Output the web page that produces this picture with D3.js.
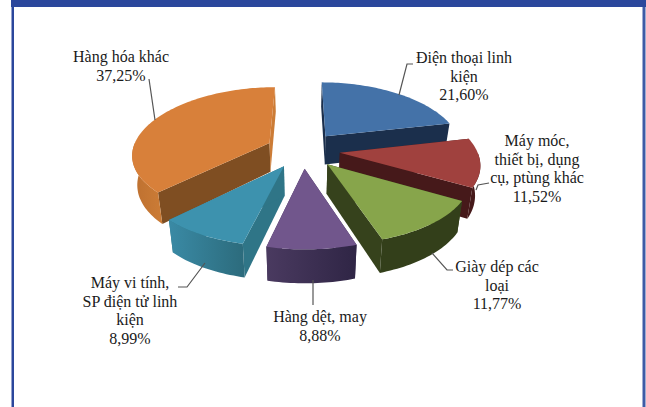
<!DOCTYPE html>
<html>
<head>
<meta charset="utf-8">
<script src="https://cdn.jsdelivr.net/npm/d3@7"></script>
<style>
  html, body { margin: 0; padding: 0; background: #fff; }
  text { font-family: "Liberation Serif", serif; font-size: 16px; fill: #1a1a1a; }
</style>
</head>
<body>
<div id="chart"></div>
<script>
const categories = ["Điện thoại linh kiện", "Máy móc, thiết bị, dụng cụ, ptùng khác", "Giày dép các loại", "Hàng dệt, may", "Máy vi tính, SP điện tử linh kiện", "Hàng hóa khác"];
const values = [21.60, 11.52, 11.77, 8.88, 8.99, 37.25];
const valueLabels = ["21,60%", "11,52%", "11,77%", "8,88%", "8,99%", "37,25%"];
const labelLines = [
    ["Điện thoại linh", "kiện"],
    ["Máy móc,", "thiết bị, dụng", "cụ, ptùng khác"],
    ["Giày dép các", "loại"],
    ["Hàng dệt, may"],
    ["Máy vi tính,", "SP điện tử linh", "kiện"],
    ["Hàng hóa khác"]
];
const topColors = ["#4472a8", "#a0413e", "#87a54b", "#71568c", "#3d92ae", "#d8803a"];
const wallColors = ["#1b2f4c", "#46191a", "#36421c", "#3f3156", "#2f7587", "#7f4e22"];
const rimStart = ["#1b2f4c", "#5a2221", "#3b4820", "#4a3a60", "#3a8aa5", "#cc7c36"];
const rimEnd = ["#1b2f4c", "#46191a", "#333f1a", "#2f2545", "#2c6b7c", "#bd7030"];
const labelCenters = [[464, 63], [537, 146], [497, 272], [320, 322], [130, 288], [121, 62]];
const leaders = [
    [[413, 64], [407, 64], [399, 95]],
    [[489, 183], [478, 185], [476, 190]],
    [[432, 253], [447, 270], [453, 270]],
    [[313, 280], [313, 305]],
    [[205, 263], [187, 287], [178, 287]],
    [[149, 79], [155, 120]]
];

const width = 646, height = 407;
const cx = 303, cy = 150, radiusX = 137, radiusY = 66.8, perspX = 0.16, perspY = 0.135, depth = 29, explode = 0.27, shrink = 0.97;

const svg = d3.select("#chart").append("svg")
    .attr("width", width).attr("height", height)
    .style("display", "block");

svg.append("rect").attr("x", 11.5).attr("y", 0).attr("width", 2.5).attr("height", height).attr("fill", "#2b479c");
svg.append("rect").attr("x", 642.5).attr("y", 0).attr("width", 3).attr("height", height).attr("fill", "#3f5ba6");
svg.append("rect").attr("x", 11).attr("y", 0).attr("width", 635).attr("height", 7).attr("fill", "#2b479c");

const pie = d3.pie().sort(null).value(d => d);
const arcs = pie(values);

const scaleX = d3.scaleLinear().domain([-1, 1]).range([cx - radiusX, cx + radiusX]);
const scaleY = d3.scaleLinear().domain([-1, 1]).range([cy + radiusY, cy - radiusY]);

// world point -> screen, bottom plane sits lower and a bit tighter
function project(wx, wz, bottom) {
    const fx = 1 - perspX * wz, fy = 1 - perspY * wz;
    const s = bottom ? shrink : 1;
    return [
        cx + (scaleX(wx * fx) - cx) * s,
        scaleY(wz * fy) + (bottom ? depth * fy : 0)
    ];
}

function apex(d) {
    const m = (d.startAngle + d.endAngle) / 2;
    return [explode * Math.sin(m), explode * Math.cos(m)];
}

function rimPoint(d, a) {
    const o = apex(d);
    return [o[0] + Math.sin(a), o[1] + Math.cos(a)];
}

function samples(a0, a1) {
    const n = Math.max(2, Math.ceil((a1 - a0) * 40));
    return d3.range(n + 1).map(i => a0 + (a1 - a0) * i / n);
}

const line = d3.line();

const defs = svg.append("defs");
arcs.forEach((d, i) => {
    const g = defs.append("linearGradient").attr("id", "rim" + i);
    g.append("stop").attr("offset", "0%").attr("stop-color", i == 5 || i < 3 ? rimEnd[i] : rimStart[i]);
    g.append("stop").attr("offset", "100%").attr("stop-color", i == 5 ? rimStart[i] : rimEnd[i]);
});

// back to front
const order = [5, 0, 1, 2, 4, 3];

order.forEach(i => {
    const d = arcs[i];
    const g = svg.append("g").attr("class", "slice");
    const o = apex(d);
    const ends = [d.startAngle, d.endAngle];

    ends.forEach((a, k) => {
        const p = rimPoint(d, a);
        const pts = [project(o[0], o[1]), project(p[0], p[1]), project(p[0], p[1], true), project(o[0], o[1], true)];
        // the edge at 12 o'clock of the last slice catches the light
        const fill = (i == 5 && k == 1) ? rimStart[i] : wallColors[i];
        g.append("path").attr("d", line(pts) + "Z").attr("fill", fill);
    });

    // outer wall, only the part that faces the viewer
    const a0 = Math.max(d.startAngle, Math.PI / 2), a1 = Math.min(d.endAngle, Math.PI * 1.5);
    if (a1 > a0) {
        const ang = samples(a0, a1);
        const topEdge = ang.map(a => { const p = rimPoint(d, a); return project(p[0], p[1]); });
        const botEdge = ang.map(a => { const p = rimPoint(d, a); return project(p[0], p[1], true); }).reverse();
        g.append("path").attr("d", line(topEdge.concat(botEdge)) + "Z").attr("fill", "url(#rim" + i + ")");
    }

    const topPts = [project(o[0], o[1])].concat(samples(d.startAngle, d.endAngle).map(a => {
        const p = rimPoint(d, a);
        return project(p[0], p[1]);
    }));
    g.append("path").attr("d", line(topPts) + "Z").attr("fill", topColors[i]);
});

svg.selectAll(".leader").data(leaders).enter().append("path")
    .attr("class", "leader")
    .attr("d", d => line(d))
    .attr("fill", "none").attr("stroke", "#555").attr("stroke-width", 1.2);

const lineH = 18.5;
labelLines.forEach((lines, i) => {
    const all = lines.concat([valueLabels[i]]);
    const t = svg.append("text").attr("text-anchor", "middle");
    all.forEach((s, k) => {
        t.append("tspan").attr("x", labelCenters[i][0]).attr("y", labelCenters[i][1] + k * lineH).text(s);
    });
});
</script>
</body>
</html>
